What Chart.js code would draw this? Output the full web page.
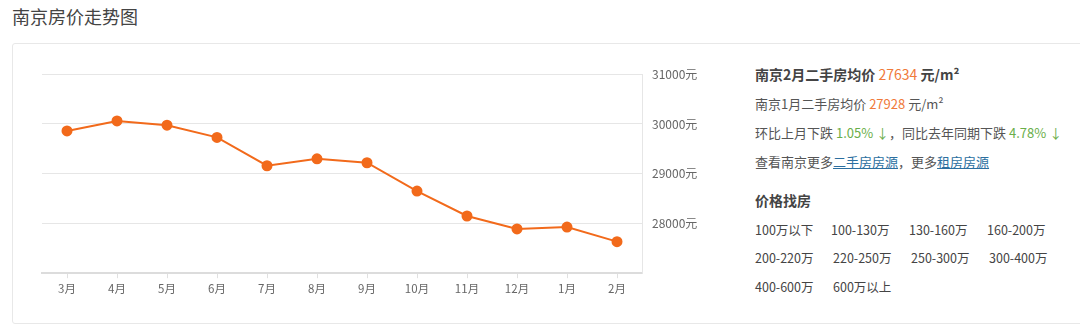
<!DOCTYPE html>
<html><head><meta charset="utf-8">
<script src="https://cdn.jsdelivr.net/npm/chart.js@4"></script>
<style>
html,body{margin:0;padding:0;background:#fff;width:1080px;height:329px;overflow:hidden;font-family:"Noto Sans CJK SC","Noto Sans",sans-serif;}
#title{position:absolute;left:12px;top:3px;font-size:18px;color:#444;}
#card{position:absolute;left:12px;top:43px;width:1080px;height:281px;border:1px solid #e8e8e8;border-radius:3px;box-sizing:border-box;}
#wrap{position:absolute;left:30px;top:57px;width:680px;height:243px;}
#info{position:absolute;left:755px;top:64px;color:#555;font-size:13px;}
.l{position:absolute;white-space:nowrap;}
.o{color:#f07a3a;font-weight:normal;}
.g{color:#6aae4a;}
a{color:#2c6fa0;text-decoration:underline;}
.p{position:absolute;white-space:nowrap;font-size:12.5px;color:#444;}
</style></head><body>
<div id="title">南京房价走势图</div>
<div id="card"></div>
<div id="wrap"><canvas id="c"></canvas></div>
<div id="info">
 <div class="l" style="top:0;font-size:14px;font-weight:bold;color:#444;">南京2月二手房均价 <span class="o">27634</span> 元/m²</div>
 <div class="l" style="top:30px;">南京1月二手房均价 <span class="o">27928</span> 元/m²</div>
 <div class="l" style="top:59px;">环比上月下跌 <span class="g">1.05% ↓</span>，同比去年同期下跌 <span class="g">4.78% ↓</span></div>
 <div class="l" style="top:88px;">查看南京更多<a>二手房房源</a>，更多<a>租房房源</a></div>
 <div class="l" style="top:126px;font-size:14px;font-weight:bold;color:#444;">价格找房</div>
 <div class="p" style="top:156px;left:0">100万以下</div>
 <div class="p" style="top:156px;left:76px">100-130万</div>
 <div class="p" style="top:156px;left:154px">130-160万</div>
 <div class="p" style="top:156px;left:232px">160-200万</div>
 <div class="p" style="top:184px;left:0">200-220万</div>
 <div class="p" style="top:184px;left:78px">220-250万</div>
 <div class="p" style="top:184px;left:156px">250-300万</div>
 <div class="p" style="top:184px;left:234px">300-400万</div>
 <div class="p" style="top:213px;left:0">400-600万</div>
 <div class="p" style="top:213px;left:78px">600万以上</div>
</div>
<script>
const months = ["3月","4月","5月","6月","7月","8月","9月","10月","11月","12月","1月","2月"];
const prices = [29860,30060,29975,29730,29160,29300,29220,28650,28150,27890,27928,27634];
const yTickLabels = [28000,29000,30000,31000];
const yMin = 27000, yMax = 31000, yStep = 1000;

new Chart(document.getElementById('c'), {
  type: 'line',
  data: { labels: months, datasets: [{
    data: prices,
    borderColor: '#f26a1b',
    backgroundColor: '#f26a1b',
    pointBackgroundColor: '#f26a1b',
    pointBorderColor: '#f26a1b',
    borderWidth: 2,
    pointRadius: 4.5,
    tension: 0,
    fill: false
  }]},
  options: {
    responsive: true, maintainAspectRatio: false, animation: false,
    layout: { padding: { left: 12, top: 4, right: 0, bottom: 0 } },
    plugins: { legend: { display: false }, tooltip: { enabled: false } },
    scales: {
      x: {
        offset: true,
        grid: { display: true, drawOnChartArea: false, tickLength: 5, color: '#e0e0e0' },
        border: { display: true, color: '#dcdcdc', width: 2 },
        ticks: { color: '#666', font: { size: 11.5, family: '"Noto Sans CJK SC"' }, padding: 4, maxRotation: 0, autoSkip: false }
      },
      y: {
        position: 'right',
        min: yMin, max: yMax,
        grid: { color: '#e6e6e6', drawTicks: false, lineWidth: 1 },
        border: { display: true, color: '#e6e6e6' },
        afterFit: s => { s.width = 68; },
        ticks: {
          stepSize: yStep, padding: 10, color: '#666',
          font: { size: 12, family: '"Noto Sans CJK SC"' },
          callback: v => yTickLabels.includes(v) ? v + '元' : ''
        }
      }
    }
  }
});
</script>
</body></html>
